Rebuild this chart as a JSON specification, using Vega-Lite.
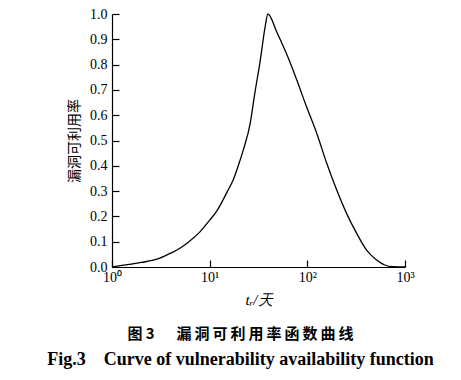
{
  "$schema": "https://vega.github.io/schema/vega-lite/v6.json",
  "autosize": {"type": "none"},
  "padding": {"left": 112, "top": 14, "right": 56, "bottom": 113},
  "width": 293,
  "height": 253,
  "background": "white",
  "config": {
    "view": {"stroke": null},
    "axis": {"grid": false, "domainColor": "black", "tickColor": "black", "labelColor": "black", "titleColor": "black", "labelFont": "Liberation Serif", "labelFontSize": 14, "domainWidth": 1.2, "tickWidth": 1.2}
  },
  "title": {
    "text": "图 3\u3000\u00a0\u00a0漏\u2009洞\u2009可\u2009利\u2009用\u2009率\u2009函\u2009数\u2009曲\u2009线",
    "subtitle": "Fig.3\u00a0\u00a0\u00a0\u00a0Curve of vulnerability availability function",
    "orient": "bottom",
    "anchor": "middle",
    "dx": -18,
    "offset": 20,
    "font": "Noto Sans CJK SC",
    "fontSize": 15,
    "fontWeight": "bold",
    "color": "black",
    "subtitleFont": "Liberation Serif",
    "subtitleFontSize": 18,
    "subtitleFontWeight": "bold",
    "subtitleColor": "black",
    "subtitlePadding": 9
  },
  "data": {
    "values": [
      {"t": 1, "p": 0},
      {"t": 1.5, "p": 0.01},
      {"t": 2, "p": 0.018},
      {"t": 3, "p": 0.033},
      {"t": 4, "p": 0.055},
      {"t": 5, "p": 0.075},
      {"t": 6, "p": 0.097},
      {"t": 8, "p": 0.14},
      {"t": 10, "p": 0.185},
      {"t": 12, "p": 0.225},
      {"t": 15, "p": 0.295},
      {"t": 17.4, "p": 0.344},
      {"t": 20, "p": 0.41},
      {"t": 22, "p": 0.46},
      {"t": 26, "p": 0.568},
      {"t": 29, "p": 0.687},
      {"t": 33, "p": 0.818},
      {"t": 37, "p": 0.95},
      {"t": 39.5, "p": 1.0},
      {"t": 48.5, "p": 0.93},
      {"t": 64, "p": 0.825},
      {"t": 78, "p": 0.739},
      {"t": 98, "p": 0.634},
      {"t": 125, "p": 0.528},
      {"t": 158, "p": 0.41},
      {"t": 200, "p": 0.304},
      {"t": 252, "p": 0.212},
      {"t": 320, "p": 0.133},
      {"t": 404, "p": 0.067},
      {"t": 512, "p": 0.028},
      {"t": 620, "p": 0.008},
      {"t": 750, "p": 0.001},
      {"t": 1000, "p": 0}
    ]
  },
  "mark": {"type": "line", "color": "black", "strokeWidth": 1.3, "interpolate": "monotone"},
  "encoding": {
    "x": {
      "field": "t", "type": "quantitative",
      "scale": {"type": "log", "domain": [1, 1000], "nice": false},
      "axis": {
        "values": [1, 10, 100, 1000],
        "labelExpr": "'10' + ['⁰','¹','²','³'][round(log(datum.value)/LN10)]",
        "tickSize": -7,
        "labelPadding": 10,
        "labelFlush": false,
        "title": "tᵣ/天",
        "titleFont": "Liberation Serif",
        "titleFontStyle": "italic",
        "titleFontWeight": "normal",
        "titleFontSize": 15,
        "titlePadding": 8
      }
    },
    "y": {
      "field": "p", "type": "quantitative",
      "scale": {"domain": [0, 1], "nice": false},
      "axis": {
        "values": [0, 0.1, 0.2, 0.3, 0.4, 0.5, 0.6, 0.7, 0.8, 0.9, 1.0],
        "format": ".1f",
        "tickSize": -7,
        "labelPadding": 12,
        "title": "漏洞可利用率",
        "titleFont": "Noto Sans CJK SC",
        "titleFontWeight": "normal",
        "titleFontSize": 14,
        "titlePadding": 8
      }
    }
  }
}
